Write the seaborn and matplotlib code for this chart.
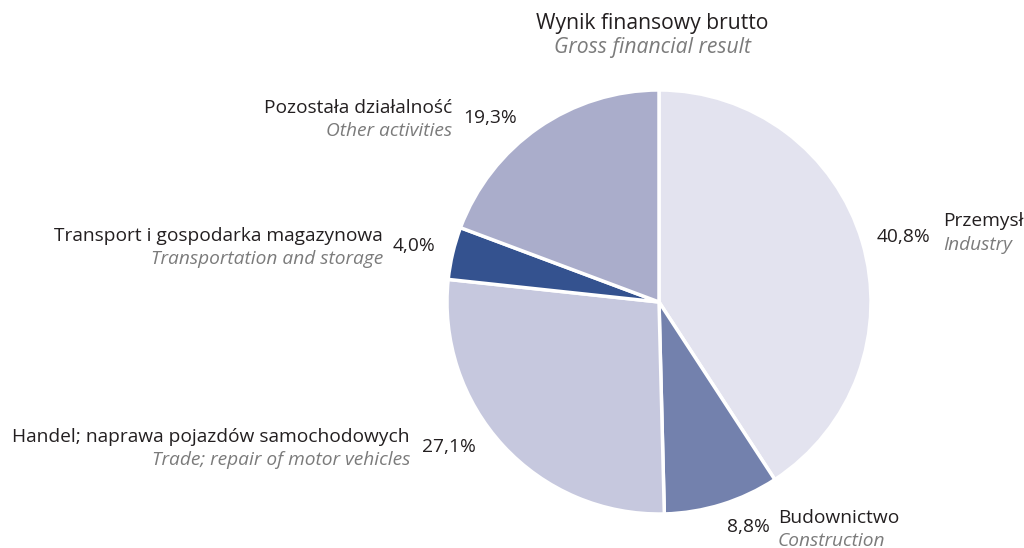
import matplotlib
matplotlib.use("Agg")
import matplotlib.pyplot as plt
import seaborn as sns

sns.set_theme(style="white")
plt.rcParams['font.family'] = ['Open Sans', 'DejaVu Sans']

categories_pl = ["Przemysł", "Budownictwo", "Handel; naprawa pojazdów samochodowych",
                 "Transport i gospodarka magazynowa", "Pozostała działalność"]
categories_en = ["Industry", "Construction", "Trade; repair of motor vehicles",
                 "Transportation and storage", "Other activities"]
shares = [40.8, 8.8, 27.1, 4.0, 19.3]
share_labels = ["40,8%", "8,8%", "27,1%", "4,0%", "19,3%"]
colors = ["#e3e3ef", "#7381ad", "#c6c8de", "#34528f", "#aaadcb"]
title_pl = "Wynik finansowy brutto"
title_en = "Gross financial result"

W, H = 1024, 548
fig = plt.figure(figsize=(W / 100, H / 100), dpi=100)
ax = fig.add_axes([0, 0, 1, 1])

cx, cy, r = 659, 302, 212
ax.pie(shares, colors=colors, startangle=90, counterclock=False,
       center=(cx, H - cy), radius=r,
       wedgeprops=dict(edgecolor="white", linewidth=2.5))
ax.set_xlim(0, W)
ax.set_ylim(0, H)
ax.set_aspect("equal")
ax.axis("off")

dark = "#231f20"
grey = "#7b7b7b"
fs = 13.8
fs_t = 15.2


def put(x, y, s, **kw):
    ax.text(x, H - y, s, va="center", **kw)


put(652, 23, title_pl, ha="center", fontsize=fs_t, color=dark)
put(652, 48, title_en, ha="center", fontsize=fs_t, color=grey, style="italic")

# (name anchor x, name y, en y, align, pct x, pct y, pct align)
layout = [
    (943, 221, 245, "left", 930, 237, "right"),
    (778, 518, 541, "left", 770, 527, "right"),
    (410, 437, 460, "right", 422, 447, "left"),
    (383, 236, 259, "right", 393, 246, "left"),
    (452, 108, 131, "right", 463, 118, "left"),
]
for i, (nx, ny, ey, al, px, py, pal) in enumerate(layout):
    put(nx, ny, categories_pl[i], ha=al, fontsize=fs, color=dark)
    put(nx, ey, categories_en[i], ha=al, fontsize=fs, color=grey, style="italic")
    put(px, py, share_labels[i], ha=pal, fontsize=fs, color=dark)

fig.savefig("out.png", dpi=100, facecolor="white")
